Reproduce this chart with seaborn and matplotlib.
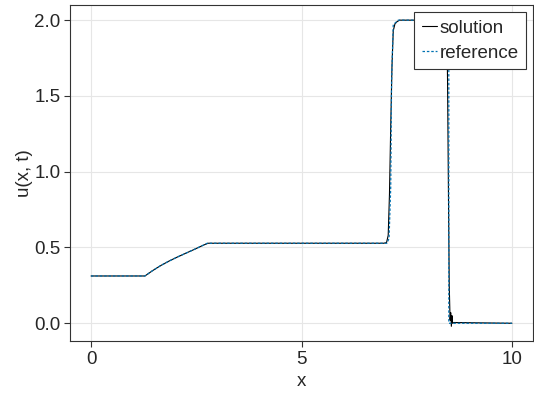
import pandas as pd
import matplotlib.pyplot as plt
import seaborn as sns

# solution (numerical)
sol_x = [0.0, 1.28, 1.45, 1.65, 1.85, 2.05, 2.25, 2.45, 2.65, 2.78,
         6.95, 7.02, 7.06, 7.09, 7.12, 7.15, 7.18, 7.22, 7.27, 7.33,
         8.45, 8.47, 8.49, 8.51, 8.53, 8.545, 8.56, 8.575, 8.59, 8.62, 10.0]
sol_u = [0.312, 0.312, 0.345, 0.380, 0.410, 0.437, 0.462, 0.487, 0.513, 0.528,
         0.528, 0.532, 0.58, 0.85, 1.3, 1.7, 1.93, 1.975, 1.99, 2.0,
         2.0, 1.6, 0.9, 0.25, 0.02, 0.07, -0.02, 0.05, 0.0, 0.005, 0.0]

# reference solution
ref_x = [0.0, 1.28, 1.45, 1.65, 1.85, 2.05, 2.25, 2.45, 2.65, 2.76,
         7.03, 7.08, 7.12, 7.14, 7.18, 7.3, 8.5, 8.5, 10.0]
ref_u = [0.312, 0.312, 0.345, 0.380, 0.410, 0.437, 0.462, 0.487, 0.513, 0.528,
         0.528, 0.56, 0.9, 1.6, 1.97, 2.0, 2.0, 0.0, 0.0]

df_sol = pd.DataFrame({"x": sol_x, "u": sol_u})
df_ref = pd.DataFrame({"x": ref_x, "u": ref_u})

sns.set_style("whitegrid")
plt.rcParams['font.family'] = ['Liberation Sans', 'DejaVu Sans']

fig = plt.figure(figsize=(5.34, 3.97), dpi=100)
ax = fig.add_axes([70 / 534, 1 - 341 / 397, 463 / 534, 336 / 397])

sns.lineplot(data=df_sol, x="x", y="u", ax=ax, color="black", lw=0.8,
             estimator=None, sort=False, label="solution")
sns.lineplot(data=df_ref, x="x", y="u", ax=ax, color="#0072B2", lw=0.9,
             estimator=None, sort=False, label="reference",
             linestyle=(0, (2.0, 1.5)))

ax.set_xlim(-0.5, 10.5)
ax.set_ylim(-0.117, 2.1)
ax.set_xticks([0, 5, 10])
ax.set_yticks([0.0, 0.5, 1.0, 1.5, 2.0])
ax.set_yticklabels(["0.0", "0.5", "1.0", "1.5", "2.0"])
ax.set_xlabel("x", fontsize=13.5, labelpad=4)
ax.set_ylabel("u(x, t)", fontsize=13.5, labelpad=1)

ax.grid(True, color="#e6e6e6", lw=0.8)
for s in ax.spines.values():
    s.set_color("#333333")
    s.set_linewidth(0.8)
ax.tick_params(axis="both", labelsize=13.5, direction="out", length=4,
               width=0.8, color="#333333", left=True, bottom=True, pad=3)

leg = ax.legend(loc="upper right", fontsize=13.5, frameon=True, fancybox=False,
                handlelength=0.8, handletextpad=0.15, borderpad=0.4,
                labelspacing=0.42, borderaxespad=0.37)
leg.get_frame().set_edgecolor("#333333")
leg.get_frame().set_linewidth(0.8)
leg.get_frame().set_alpha(1.0)

fig.savefig("out.png", dpi=100)
